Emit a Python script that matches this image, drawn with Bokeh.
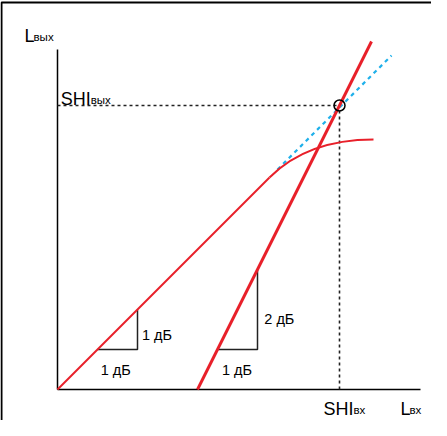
from bokeh.plotting import figure
from bokeh.models import Range1d
from bokeh.core.properties import value
from bokeh.embed import file_html
from bokeh.resources import INLINE

# --- data (levels in dB, schematic) ---
lin_x = [0.0, 5.3]             # linear part of the output characteristic
lin_y = [0.0, 5.3]
sat_start = (5.3, 5.3)         # saturating part (quadratic curve)
sat_ctrl = (6.25, 6.25)
sat_end = (7.9, 6.25)
ext_x = [5.5, 8.35]            # extrapolated first-order line
ext_y = [5.5, 8.35]
im_x = [3.5, 7.85]             # second-order (slope 2) line
im_y = [0.0, 8.7]
shi_in = 7.05                  # intercept point
shi_out = 7.1
tri1_x = [1.0, 2.0, 2.0]
tri1_y = [1.0, 1.0, 2.0]
tri2_x = [4.0, 5.0, 5.0]
tri2_y = [1.0, 1.0, 3.0]
axis_x_end = 9.075
axis_y_end = 8.5

RED = "#e8202a"
BLUE = "#1fb0ea"
DARK = "#222222"
FONT = value("Liberation Sans")

p = figure(width=431, height=420, output_backend="svg", toolbar_location=None,
           x_range=Range1d(-1.425, 9.35), y_range=Range1d(-0.775, 9.725),
           min_border=0)
p.axis.visible = False
p.grid.visible = False
p.outline_line_color = None

# frame border (partly outside the view)
p.line([-1.4, -1.4, 20], [-5, 9.675, 9.675], line_color="black", line_width=2)

# axes
p.line([0, 0], [0, axis_y_end], line_color="black", line_width=1.5)
p.line([0, axis_x_end], [0, 0], line_color="black", line_width=1.5)

# dotted guides
p.line([0, shi_in], [shi_out, shi_out], line_color=DARK, line_width=1.6, line_dash="3 3")
p.line([shi_in, shi_in], [0, shi_out], line_color=DARK, line_width=1.6, line_dash="3 3")

# triangles
p.line(tri1_x, tri1_y, line_color=DARK, line_width=1.5)
p.line(tri2_x, tri2_y, line_color=DARK, line_width=1.5)

# extrapolation (blue dashed)
p.line(ext_x, ext_y, line_color=BLUE, line_width=2.2, line_dash="4 4")

# characteristic
p.line(lin_x, lin_y, line_color=RED, line_width=2)
p.quadratic(x0=[sat_start[0]], y0=[sat_start[1]], x1=[sat_end[0]], y1=[sat_end[1]],
            cx=[sat_ctrl[0]], cy=[sat_ctrl[1]], line_color=RED, line_width=2)
p.line(im_x, im_y, line_color=RED, line_width=3)

# intercept circle
p.scatter([shi_in], [shi_out], size=11, marker="circle", fill_color=None,
          line_color="black", line_width=1.5)

# slope labels
p.text(x=[1.08, 2.11, 4.11, 5.17], y=[0.5, 1.375, 0.49, 1.775],
       text=["1 дБ", "1 дБ", "1 дБ", "2 дБ"], text_font=FONT,
       text_font_size="14.5px", text_baseline="alphabetic", text_color="black")

# axis labels with subscripts
def label(x, y, main, sub, dx_sub, size="18px"):
    p.text(x=[x], y=[y], text=[main], text_font=FONT, text_font_size=size,
           text_baseline="alphabetic", text_color="black")
    p.text(x=[x], y=[y], text=[sub], text_font=FONT, text_font_size="11.5px",
           text_baseline="alphabetic", text_color="black", x_offset=dx_sub, y_offset=1)

label(-0.825, 8.85, "L", "вых", 9)
label(0.08, 7.275, "SHI", "вых", 30)
label(6.65, -0.475, "SHI", "вх", 30)
label(8.575, -0.475, "L", "вх", 9)

open("out.html", "w").write(file_html(p, INLINE))
